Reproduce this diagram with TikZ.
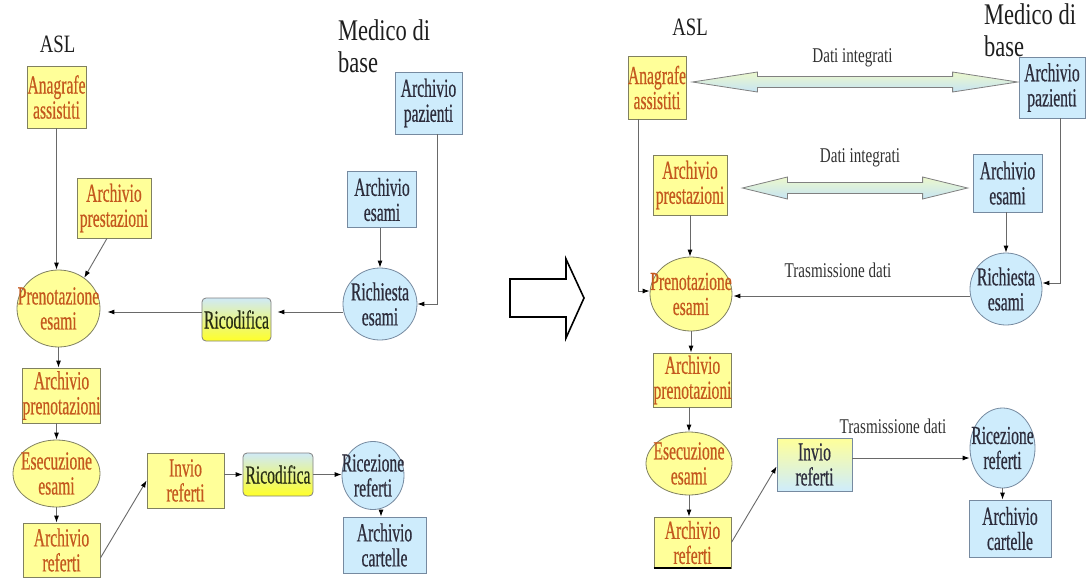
\documentclass[tikz,border=0pt]{standalone}
\usepackage{fontspec}
\setmainfont[FakeStretch=0.6,FakeBold=0.5]{Liberation Serif}
\newfontfamily\hdfont[FakeStretch=0.75]{Liberation Serif}
\newfontfamily\lblfont[FakeStretch=0.72]{Liberation Serif}
\usetikzlibrary{shapes.geometric,arrows.meta,calc}

\definecolor{ylwfill}{RGB}{255,255,153}
\definecolor{ylwline}{RGB}{128,128,96}
\definecolor{ylwtext}{RGB}{196,88,30}
\definecolor{bluefill}{RGB}{206,236,252}
\definecolor{blueline}{RGB}{118,138,160}
\definecolor{bluetext}{RGB}{45,45,60}
\definecolor{connline}{RGB}{105,105,105}
\definecolor{hdrtext}{RGB}{30,30,30}
\definecolor{lbltext}{RGB}{50,50,50}
\definecolor{recblue}{RGB}{208,234,246}
\definecolor{recmid}{RGB}{238,246,170}
\definecolor{recyellow}{RGB}{255,255,40}
\definecolor{rectext}{RGB}{40,45,20}
\definecolor{flowgreen}{RGB}{236,248,204}
\definecolor{flowblue}{RGB}{198,228,244}

% double-headed block arrow between two tip points (same height as the first)
% #1,#2 tips, #3 head length, #4 head half-height, #5 shaft half-height
\newcommand\integrationarrow[5]{%
  \path[dataarrow] let \p1=(#1), \p2=(#2) in
    (\x1,\y1) -- (\x1+#3pt,\y1+#4pt) -- (\x1+#3pt,\y1+#5pt)
    -- (\x2-#3pt,\y1+#5pt) -- (\x2-#3pt,\y1+#4pt) -- (\x2,\y1)
    -- (\x2-#3pt,\y1-#4pt) -- (\x2-#3pt,\y1-#5pt)
    -- (\x1+#3pt,\y1-#5pt) -- (\x1+#3pt,\y1-#4pt) -- cycle;}

\begin{document}
\begin{tikzpicture}[x=1pt,y=-1pt,
  every node/.style={inner sep=0pt, align=center},
  txt/.style={font=\fontsize{26}{25}\selectfont},
  ytxt/.style={txt, text=ylwtext},
  btxt/.style={txt, text=bluetext},
  sz/.style 2 args={minimum width=#1pt, minimum height=#2pt},
  ybox/.style={ytxt, rectangle, draw=ylwline, line width=0.8pt, fill=ylwfill},
  bbox/.style={btxt, rectangle, draw=blueline, line width=0.8pt, fill=bluefill},
  yell/.style={ellipse, draw=ylwline, line width=0.8pt, fill=ylwfill},
  bell/.style={ellipse, draw=blueline, line width=0.8pt, fill=bluefill},
  recode/.style={txt, text=rectext, rectangle, rounded corners=4pt,
    draw=gray, line width=0.8pt, top color=recblue, middle color=recmid,
    bottom color=recyellow},
  sendbox/.style={btxt, rectangle, draw=blueline, line width=0.8pt,
    top color=ylwfill, bottom color=bluefill},
  hdr/.style={font=\hdfont\fontsize{25}{32}\selectfont, text=hdrtext},
  hdrbig/.style={font=\hdfont\fontsize{30}{32}\selectfont, text=hdrtext,
    align=left},
  lbl/.style={font=\lblfont\fontsize{21}{24}\selectfont, text=lbltext},
  conn/.style={draw=connline, line width=0.9pt,
    -{Latex[length=7pt,width=5pt,color=black]}},
  dataarrow/.style={draw=gray, line width=0.8pt, top color=flowgreen,
    bottom color=flowblue, line join=miter},
  bigarrow/.style={draw=black, line width=1.6pt, fill=white, line join=miter}]

\useasboundingbox (0,0) rectangle (1088,584);
\fill[white] (0,0) rectangle (1088,584);

% ---------------- current flow ----------------
\node[hdr] (aslL) at (57.5,44.5) {ASL};
\node[hdrbig, anchor=north west] (medL) at (338,19) {Medico di\\base};

\node[ybox, sz={59}{62}] (anaL) at (56.5,97) {Anagrafe\\assistiti};
\node[ybox, sz={74}{60}] (presL) at (114,208) {Archivio\\prestazioni};
\node[yell, sz={83}{77}, label={[ytxt]center:Prenotazione\\esami}] (prenL) at (58.5,308.5) {};
\node[recode, sz={69}{43}] (ricL) at (236.5,319.5) {Ricodifica};
\node[bbox, sz={67}{62}] (pazL) at (428.5,103) {Archivio\\pazienti};
\node[bbox, sz={69}{56}] (esL) at (382,199.5) {Archivio\\esami};
\node[bell, sz={74}{72}, label={[btxt]center:Richiesta\\esami}] (richL) at (380,304) {};
\node[ybox, sz={77}{55}] (apL) at (61.5,395.5) {Archivio\\prenotazioni};
\node[yell, sz={87}{67}, label={[ytxt]center:Esecuzione\\esami}] (exL) at (56.5,473.5) {};
\node[ybox, sz={77}{54}] (arL) at (61.5,550) {Archivio\\referti};
\node[ybox, sz={77}{55}] (invL) at (185.5,480.5) {Invio\\referti};
\node[recode, sz={70}{43}] (ric2L) at (278,474.5) {Ricodifica};
\node[bell, sz={62}{68}, label={[btxt]center:Ricezione\\referti}] (recL) at (373,475.5) {};
\node[bbox, sz={83}{56}] (cartL) at (384.5,545) {Archivio\\cartelle};

\draw[conn] (anaL.south) -- (anaL.south |- prenL.north);
\draw[conn] ([xshift=-7pt]presL.south) -- (prenL.50);
\draw[conn] ([xshift=8.5pt]pazL.south) |- (richL.east);
\draw[conn] (esL.south -| richL.north) -- (richL.north);
\draw[conn, shorten >=6pt] ($(richL.west)+(0,8)$) -- ($(ricL.east)+(0,-7.5)$);
\draw[conn, shorten >=7pt] ($(ricL.west)+(0,-7.5)$) -- ($(prenL.east)+(0,3.5)$);
\draw[conn] (prenL.south) -- (prenL.south |- apL.north);
\draw[conn] (apL.south -| exL.north) -- (exL.north);
\draw[conn] (exL.south) -- (exL.south |- arL.north);
\draw[conn] ($(arL.east)+(0,8)$) -- (invL.west);
\draw[conn] (invL.east |- ric2L.east) -- (ric2L.west);
\draw[conn] (ric2L.east) -- (ric2L.east -| recL.west);
\draw[conn] ([xshift=8pt]recL.south) -- ([xshift=8pt]recL.south |- cartL.north);

% ---------------- transition ----------------
\draw[bigarrow] (510,279) -- (566,279) -- (566,259) -- (584,298)
  -- (566,338) -- (566,317) -- (510,317) -- cycle;

% ---------------- integrated flow ----------------
\node[hdr] (aslR) at (690,27.5) {ASL};
\node[hdrbig, anchor=north west] (medR) at (984,3) {Medico di\\base};

\node[ybox, sz={58}{63}] (anaR) at (657,87.5) {Anagrafe\\assistiti};
\node[bbox, sz={66}{61}] (pazR) at (1052,87.5) {Archivio\\pazienti};
\node[ybox, sz={74}{60}] (presR) at (690,185) {Archivio\\prestazioni};
\node[bbox, sz={69}{58}] (esR) at (1007.5,183) {Archivio\\esami};
\node[yell, sz={82}{74}, label={[ytxt]center:Prenotazione\\esami}] (prenR) at (691,294) {};
\node[bell, sz={72}{72}, label={[btxt]center:Richiesta\\esami}] (richR) at (1006,289) {};
\node[ybox, sz={77}{54}] (apR) at (692.5,380) {Archivio\\prenotazioni};
\node[yell, sz={86}{63}, label={[ytxt]center:Esecuzione\\esami}] (exR) at (689,463.5) {};
\node[ybox, sz={77}{51}] (arR) at (692.5,542.5) {Archivio\\referti};
\node[sendbox, sz={75}{53}] (invR) at (814.5,464.5) {Invio\\referti};
\node[bell, sz={65}{80}, label={[btxt]center:Ricezione\\referti}] (recR) at (1002.5,448) {};
\node[bbox, sz={82}{57}] (cartR) at (1010,528.5) {Archivio\\cartelle};
\draw[line width=2pt, black] (arR.south west) -- (arR.south east);

\node[lbl, anchor=base] (di1) at (852.5,62) {Dati integrati};
\node[lbl, anchor=base] (di2) at (860,162) {Dati integrati};
\node[lbl, anchor=base] (td1) at (838,277) {Trasmissione dati};
\node[lbl, anchor=base] (td2) at (893,433) {Trasmissione dati};

\coordinate (d1a) at ($(anaR.east)+(6,-5.5)$);
\coordinate (d1b) at ($(pazR.west)+(-1,-5.5)$);
\integrationarrow{d1a}{d1b}{65}{10}{5.5}
\coordinate (d2a) at ($(presR.east)+(15,3)$);
\coordinate (d2b) at ($(esR.west)+(-5,5)$);
\integrationarrow{d2a}{d2b}{45}{11}{5.5}

\draw[conn] ([xshift=-19pt]anaR.south) |- ($(prenR.west)+(0,-3)$);
\draw[conn] (presR.south) -- (presR.south |- prenR.north);
\draw[conn] (esR.south -| richR.north) -- (richR.north);
\draw[conn] ([xshift=8pt]pazR.south) |- ($(richR.east)+(0,-6)$);
\draw[conn] ($(richR.west)+(0,7)$) -- ($(prenR.east)+(1,2)$);
\draw[conn] (prenR.south) -- (prenR.south |- apR.north);
\draw[conn] (apR.south -| exR.north) -- (exR.north);
\draw[conn] (exR.south) -- (exR.south |- arR.north);
\draw[conn] (arR.east) -- ($(invR.west)+(0,2)$);
\coordinate (tx) at ($(invR.east)+(0,-6.5)$);
\draw[conn] (tx) -- (tx -| recR.west);
\draw[conn] (recR.south) -- (recR.south |- cartR.north);
\end{tikzpicture}
\end{document}
